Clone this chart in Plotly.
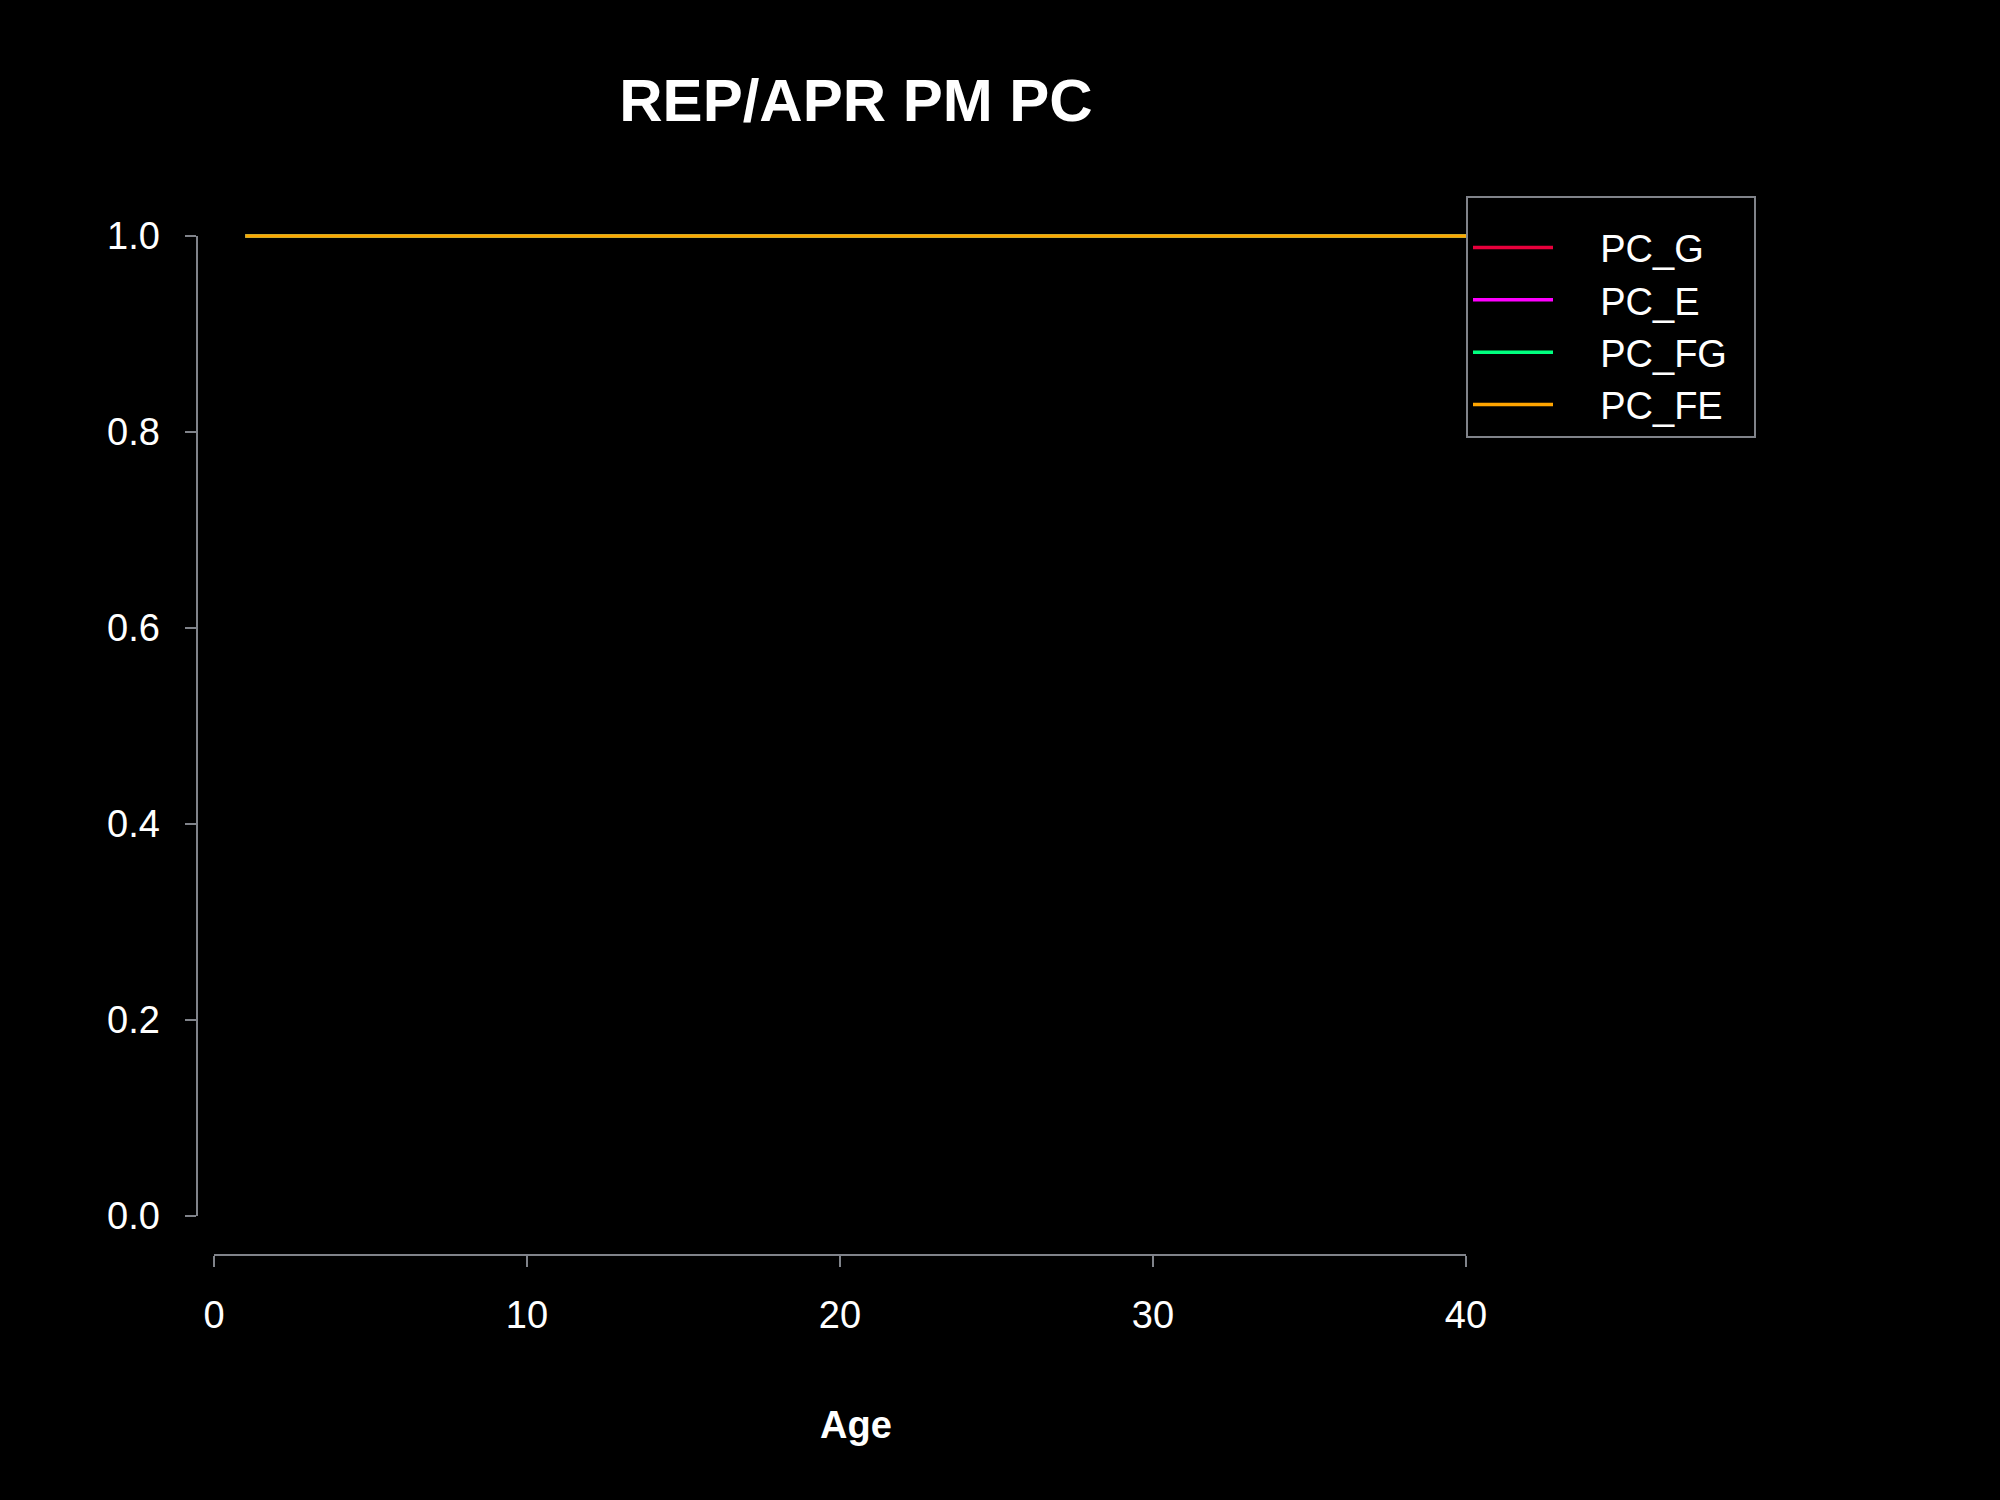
import plotly.graph_objects as go

ages = [1, 2, 3, 4, 5, 6, 7, 8, 9, 10, 11, 12, 13, 14, 15, 16, 17, 18, 19, 20,
        21, 22, 23, 24, 25, 26, 27, 28, 29, 30, 31, 32, 33, 34, 35, 36, 37, 38, 39, 40]
pc_g = [1.0] * 40
pc_e = [1.0] * 40
pc_fg = [1.0] * 40
pc_fe = [1.0] * 40
series_names = ["PC_G", "PC_E", "PC_FG", "PC_FE"]
series_colors = ["#E8003C", "#FF00FF", "#00FF7F", "#FFA500"]
x_ticks = [0, 10, 20, 30, 40]
y_ticks = [0.0, 0.2, 0.4, 0.6, 0.8, 1.0]
y_ticktext = ["0.0", "0.2", "0.4", "0.6", "0.8", "1.0"]

W, H = 2000, 1500
ML, MR, MT, MB = 150, 200, 150, 210
pw = W - ML - MR
ph = H - MT - MB

def px_x(p):
    return (p - ML) / pw

def px_y(p):
    return (H - MB - p) / ph

# pixel frame of the visible axes
Y0_PX, Y1_PX = 1216, 236
PAD = 0.05
yspan = Y0_PX - Y1_PX

fig = go.Figure()
# empty trace so that the visible (x, y) axis pair is created and drawn
fig.add_trace(go.Scatter(x=[], y=[], xaxis="x", yaxis="y", showlegend=False,
                         hoverinfo="skip"))
for name, vals, col in zip(series_names, [pc_g, pc_e, pc_fg, pc_fe], series_colors):
    fig.add_trace(go.Scatter(x=ages, y=vals, mode="lines",
                             name="\u00a0" * 4 + name + "\u00a0" * 2,
                             xaxis="x", yaxis="y2",
                             line=dict(color=col, width=3.5)))

font = "Liberation Sans, Arial, sans-serif"
axcol = "#80838A"
fig.update_layout(
    width=W, height=H,
    paper_bgcolor="black", plot_bgcolor="rgba(0,0,0,0)",
    margin=dict(l=ML, r=MR, t=MT, b=MB),
    font=dict(family=font, color="white", size=38),
    title=dict(text="<b>REP/APR PM PC</b>", xref="container", yref="container",
               x=856 / W, y=1 - 99.5 / H, xanchor="center", yanchor="middle",
               font=dict(size=60, color="white", family=font)),
    xaxis=dict(domain=[px_x(214), px_x(1466)], range=[0, 40], anchor="free",
               position=px_y(1255), tickvals=x_ticks, ticks="outside", ticklen=11,
               tickwidth=2, tickcolor=axcol, showline=True, linecolor=axcol, linewidth=2,
               showgrid=False, zeroline=False, ticklabelstandoff=15,
               tickfont=dict(size=38, color="white")),
    yaxis=dict(domain=[px_y(Y0_PX), px_y(Y1_PX)], range=[0, 1], anchor="free",
               position=px_x(196.5), tickvals=y_ticks, ticktext=y_ticktext,
               ticks="outside", ticklen=11, tickwidth=2, tickcolor=axcol, showline=True,
               linecolor=axcol, linewidth=2, showgrid=False, zeroline=False,
               ticklabelstandoff=17, tickfont=dict(size=38, color="white")),
    yaxis2=dict(domain=[px_y(Y0_PX), px_y(Y1_PX - PAD * yspan)],
                range=[0, 1 + PAD], anchor="x", visible=False,
                showgrid=False, zeroline=False),
    legend=dict(x=px_x(1466), y=px_y(196), xanchor="left", yanchor="top",
                bgcolor="black", bordercolor=axcol, borderwidth=2,
                title=dict(text=" ", font=dict(size=14)),
                font=dict(size=38, color="white", family=font), itemwidth=80),
    showlegend=True,
)
fig.add_annotation(text="<b>Age</b>", x=20.5, xref="x", y=px_y(1425), yref="paper",
                   showarrow=False, xanchor="center", yanchor="middle",
                   font=dict(size=38, color="white", family=font))

fig.write_html("out.html")
